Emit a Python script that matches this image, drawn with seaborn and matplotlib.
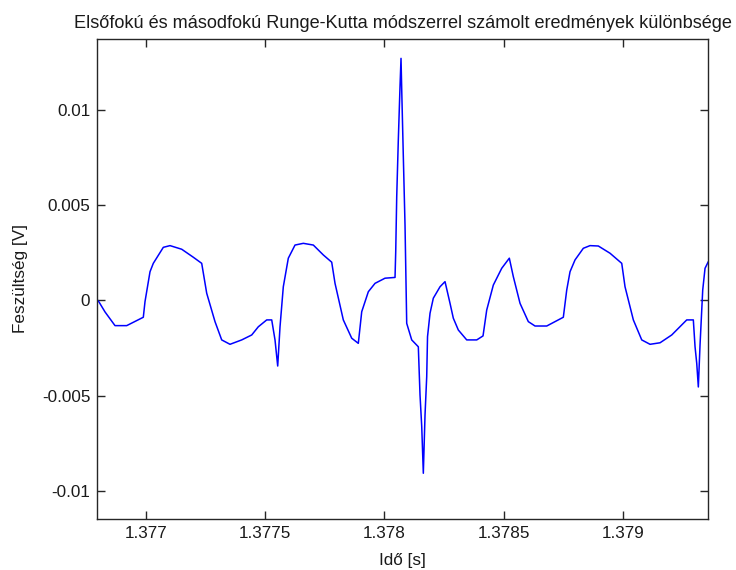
import numpy as np
import pandas as pd
import matplotlib
matplotlib.use("Agg")
import matplotlib.pyplot as plt
import seaborn as sns

# time offset from 1.377 s, in microseconds
t_offset_us = [-204.3, -197.1, -172.0, -130.0, -81.0, -11.3, -4.2, 16.8, 30.6, 72.6,
               100.7, 149.7, 198.4, 233.6, 254.6, 289.4, 317.5, 352.3, 401.4, 443.4,
               471.1, 506.3, 527.3, 541.1, 552.4, 562.1, 575.9, 596.9, 625.0, 659.8,
               701.8, 743.7, 778.9, 792.8, 827.6, 862.8, 890.5, 904.8, 932.5, 960.6,
               1002.5, 1044.5, 1047.4, 1051.6, 1058.3, 1065.4, 1069.6, 1072.6, 1079.3, 1086.4,
               1093.5, 1114.5, 1142.2, 1149.3, 1156.5, 1163.2, 1170.3, 1177.4, 1180.8, 1191.3,
               1205.1, 1233.2, 1254.2, 1275.2, 1289.0, 1310.0, 1345.2, 1387.2, 1413.6, 1429.1,
               1456.8, 1492.0, 1523.9, 1540.7, 1568.8, 1603.6, 1631.7, 1680.8, 1750.4, 1764.7,
               1778.5, 1799.5, 1834.3, 1862.4, 1897.2, 1946.3, 1995.4, 2009.2, 2044.1, 2079.3,
               2114.1, 2156.1, 2205.1, 2268.0, 2295.7, 2302.9, 2310.0, 2316.7, 2323.8, 2335.1,
               2344.8, 2358.6]

voltage_diff = [0.00003, -0.00008, -0.00060, -0.00132, -0.00132, -0.00088, -0.00006, 0.00151, 0.00195, 0.00279,
                0.00288, 0.00269, 0.00227, 0.00195, 0.00038, -0.00111, -0.00207, -0.00230, -0.00207, -0.00181,
                -0.00138, -0.00102, -0.00102, -0.00207, -0.00344, -0.00138, 0.00072, 0.00222, 0.00291, 0.00300,
                0.00291, 0.00239, 0.00201, 0.00090, -0.00102, -0.00198, -0.00225, -0.00059, 0.00046, 0.00090,
                0.00117, 0.00121, 0.00256, 0.00545, 0.00843, 0.01122, 0.01271, 0.01105, 0.00755, 0.00396,
                -0.00120, -0.00207, -0.00243, -0.00496, -0.00662, -0.00907, -0.00601, -0.00400, -0.00190, -0.00067,
                0.00012, 0.00072, 0.00099, -0.00015, -0.00093, -0.00155, -0.00207, -0.00207, -0.00186, -0.00050,
                0.00081, 0.00169, 0.00222, 0.00125, -0.00015, -0.00111, -0.00134, -0.00134, -0.00088, 0.00055,
                0.00151, 0.00213, 0.00274, 0.00288, 0.00286, 0.00248, 0.00195, 0.00072, -0.00102, -0.00207,
                -0.00230, -0.00222, -0.00181, -0.00102, -0.00102, -0.00243, -0.00330, -0.00454, -0.00234, 0.00055,
                0.00169, 0.00204]

x_ticks = [1.377, 1.3775, 1.378, 1.3785, 1.379]
x_tick_labels = ["1.377", "1.3775", "1.378", "1.3785", "1.379"]
y_ticks = [0.01, 0.005, 0.0, -0.005, -0.01]
y_tick_labels = ["0.01", "0.005", "0", "-0.005", "-0.01"]

title_text = "Elsőfokú és másodfokú Runge-Kutta módszerrel számolt eredmények különbsége"
x_label = "Idő [s]"
y_label = "Feszültség [V]"

df = pd.DataFrame({"t": 1.377 + np.array(t_offset_us) * 1e-6, "v": voltage_diff})

sns.set_theme(style="white")
plt.rcParams["font.family"] = ["Liberation Sans", "DejaVu Sans"]
plt.rcParams["axes.unicode_minus"] = False

fig = plt.figure(figsize=(7.36, 5.70), dpi=100)
fig.patch.set_facecolor("white")
ax = fig.add_axes([0.1322, 0.0895, 0.9624 - 0.1322, 0.9316 - 0.0895])

sns.lineplot(data=df, x="t", y="v", ax=ax, sort=False, estimator=None,
             color="#0000ff", linewidth=1.1)

ax.set_xlim(1.3767957, 1.3793586)
ax.set_ylim(-0.01147, 0.013727)
ax.set_xticks(x_ticks)
ax.set_xticklabels(x_tick_labels)
ax.set_yticks(y_ticks)
ax.set_yticklabels(y_tick_labels)

for s in ax.spines.values():
    s.set_visible(True)
    s.set_color("#262626")
    s.set_linewidth(1.0)

ax.tick_params(axis="both", which="both", direction="in", length=6, width=1.0,
               color="#262626", top=True, right=True, bottom=True, left=True,
               labelsize=12.3, labelcolor="#1a1a1a", pad=5)

ax.set_xlabel(x_label, fontsize=12.3, color="#1a1a1a", labelpad=9)
ax.set_ylabel(y_label, fontsize=12.3, color="#1a1a1a", labelpad=10)
ax.set_title(title_text, fontsize=13.1, color="#1a1a1a", pad=8)
ax.grid(False)

fig.savefig("out.png", dpi=100, facecolor="white")
